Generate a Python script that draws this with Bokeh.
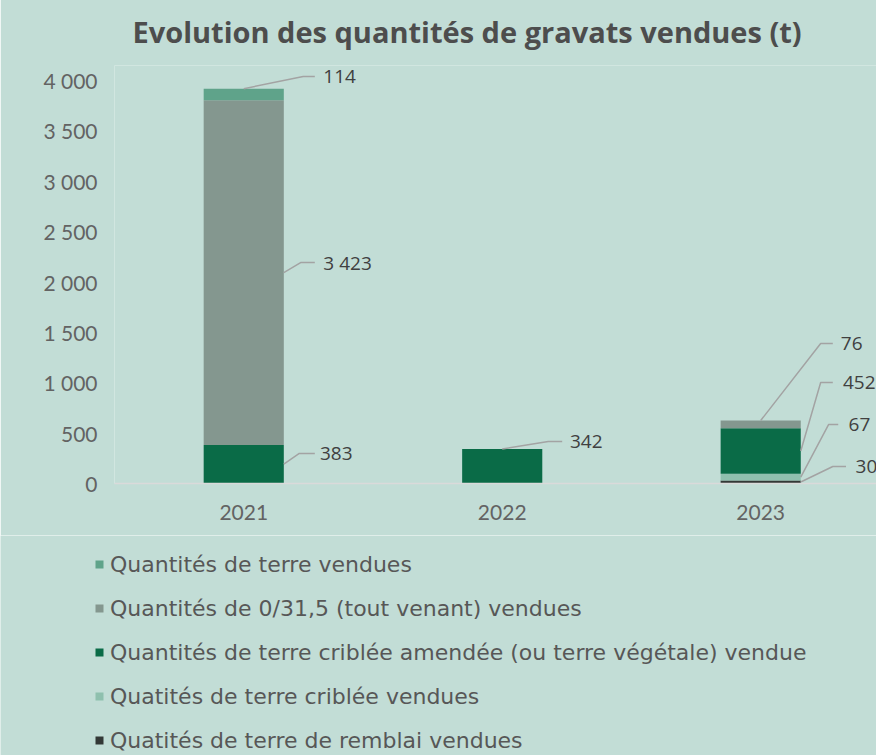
from bokeh.plotting import figure
from bokeh.models import Range1d, FixedTicker, Legend, LegendItem
from bokeh.embed import file_html
from bokeh.resources import INLINE
from bokeh.core.properties import value

# ---------------- data ----------------
years = ["2021", "2022", "2023"]
# stacked from bottom to top
series_names = [
    "Quatités de terre de remblai vendues",
    "Quatités de terre criblée vendues",
    "Quantités de terre criblée amendée (ou terre végétale) vendue",
    "Quantités de 0/31,5 (tout venant) vendues",
    "Quantités de terre vendues",
]
remblai = [0, 0, 30]
criblee = [0, 0, 67]
amendee = [383, 342, 452]
tout_venant = [3423, 0, 76]
terre = [114, 0, 0]
y_ticks = [0, 500, 1000, 1500, 2000, 2500, 3000, 3500, 4000]
y_tick_labels = ["0", "500", "1 000", "1 500", "2 000", "2 500", "3 000", "3 500", "4 000"]

# ---------------- style ----------------
BG = "#c2ddd6"
colors = ["#333836", "#8fc0ae", "#0a6b47", "#84978f", "#5fa38a"]
keys = ["remblai", "criblee", "amendee", "tout_venant", "terre"]
values = [remblai, criblee, amendee, tout_venant, terre]

xs = list(range(len(years)))
data = {"x": xs}
for k, v in zip(keys, values):
    data[k] = v

p = figure(frame_width=762, frame_height=418, output_backend="svg", toolbar_location=None,
           x_range=Range1d(-0.5, 2.448), y_range=Range1d(0, 4150),
           min_border_left=114, min_border_right=0, min_border_top=73, min_border_bottom=52)
p.styles = {"margin-top": "-8px"}
p.background_fill_color = BG
p.border_fill_color = BG
p.outline_line_color = None
p.xgrid.visible = False
p.ygrid.visible = False

BAR_W = 0.31
renderers = p.vbar_stack(keys, x="x", width=BAR_W, color=colors, line_color=None, source=data)

# ---------------- data labels with leader lines ----------------
# (year index, series index, anchor type, elbow dx, line end dx, text dx, label dy (data units))
label_layout = [
    (0, 4, "top", 0.23, 0.275, 0.308, 120),
    (0, 3, "side", 0.22, 0.275, 0.308, 99),
    (0, 2, "side", 0.215, 0.275, 0.295, 107),
    (1, 2, "top", 0.178, 0.232, 0.262, 75),
    (2, 3, "top", 0.232, 0.279, 0.31, 765),
    (2, 2, "side", 0.232, 0.279, 0.318, 679),
    (2, 1, "side", 0.263, 0.30, 0.34, 523),
    (2, 0, "side", 0.279, 0.33, 0.367, 154),
]
lx, ly, tx, ty, tt = [], [], [], [], []
for yi, si, kind, ex, endx, txx, dy in label_layout:
    base = sum(values[k][yi] for k in range(si))
    v = values[si][yi]
    if kind == "top":
        ax, ay = xs[yi], base + v
    else:
        ax, ay = xs[yi] + BAR_W / 2, base + v / 2
    lab_y = ay + dy
    lx.append([ax, xs[yi] + ex, xs[yi] + endx])
    ly.append([ay, lab_y, lab_y])
    tx.append(xs[yi] + txx)
    ty.append(lab_y)
    tt.append(f"{v:,}".replace(",", " "))

p.multi_line(lx, ly, line_color="#a3a3a3", line_width=1.5)
p.text(tx, ty, text=tt, text_font=value("Open Sans"), text_font_size="19px",
       text_baseline="middle", text_align="left", text_color="#404040")

# ---------------- axes ----------------
p.yaxis.ticker = FixedTicker(ticks=y_ticks)
p.yaxis.major_label_overrides = {t: l for t, l in zip(y_ticks, y_tick_labels)}
p.yaxis.axis_line_color = None
p.yaxis.major_tick_line_color = None
p.yaxis.minor_tick_line_color = None
p.yaxis.major_label_standoff = 11
p.yaxis.major_label_text_font = "Lato"
p.yaxis.major_label_text_font_size = "21px"
p.yaxis.major_label_text_color = "#636363"

p.xaxis.ticker = FixedTicker(ticks=xs)
p.xaxis.major_label_overrides = {x: y for x, y in zip(xs, years)}
p.xaxis.axis_line_color = "#dadada"
p.xaxis.axis_line_width = 1.5
p.xaxis.major_tick_line_color = None
p.xaxis.minor_tick_line_color = None
p.xaxis.major_label_standoff = 15
p.xaxis.major_label_text_font = "Lato"
p.xaxis.major_label_text_font_size = "21px"
p.xaxis.major_label_text_color = "#636363"

# ---------------- title ----------------
p.title.text = "Evolution des quantités de gravats vendues (t)"
p.title.align = "left"
p.title.offset = 18
p.title.text_font = "Open Sans"
p.title.text_font_size = "29px"
p.title.text_font_style = "bold"
p.title.text_color = "#4d4d4d"
p.title.standoff = 30

# ---------------- legend (separate strip below the chart) ----------------
LEG_H = 220
q = figure(width=876, height=LEG_H, output_backend="svg", toolbar_location=None, title=None,
           x_axis_location=None, y_axis_location=None,
           x_range=Range1d(0, 1), y_range=Range1d(0, 1),
           min_border_left=0, min_border_right=0, min_border_top=0, min_border_bottom=0)
q.xgrid.visible = False
q.ygrid.visible = False
q.background_fill_color = BG
q.border_fill_color = BG
q.outline_line_color = None
proxies = [q.vbar(x=[0.5], top=[0], bottom=[0], width=0.0, color=c, line_color=None) for c in colors]

items = [LegendItem(label=series_names[i], renderers=[proxies[i]]) for i in reversed(range(len(keys)))]
# location = bottom-left corner of the legend box, in pixels from the strip's bottom-left
legend = Legend(items=items, location=(94, 1), orientation="vertical",
                glyph_width=10, glyph_height=10, label_height=28, spacing=16,
                label_text_font="DejaVu Sans", label_text_font_size="22px", label_text_color="#575757",
                label_standoff=6, padding=0, margin=0,
                background_fill_alpha=0, border_line_color=None)
q.add_layout(legend, "center")

open("out.html", "w").write(file_html([p, q], INLINE))
